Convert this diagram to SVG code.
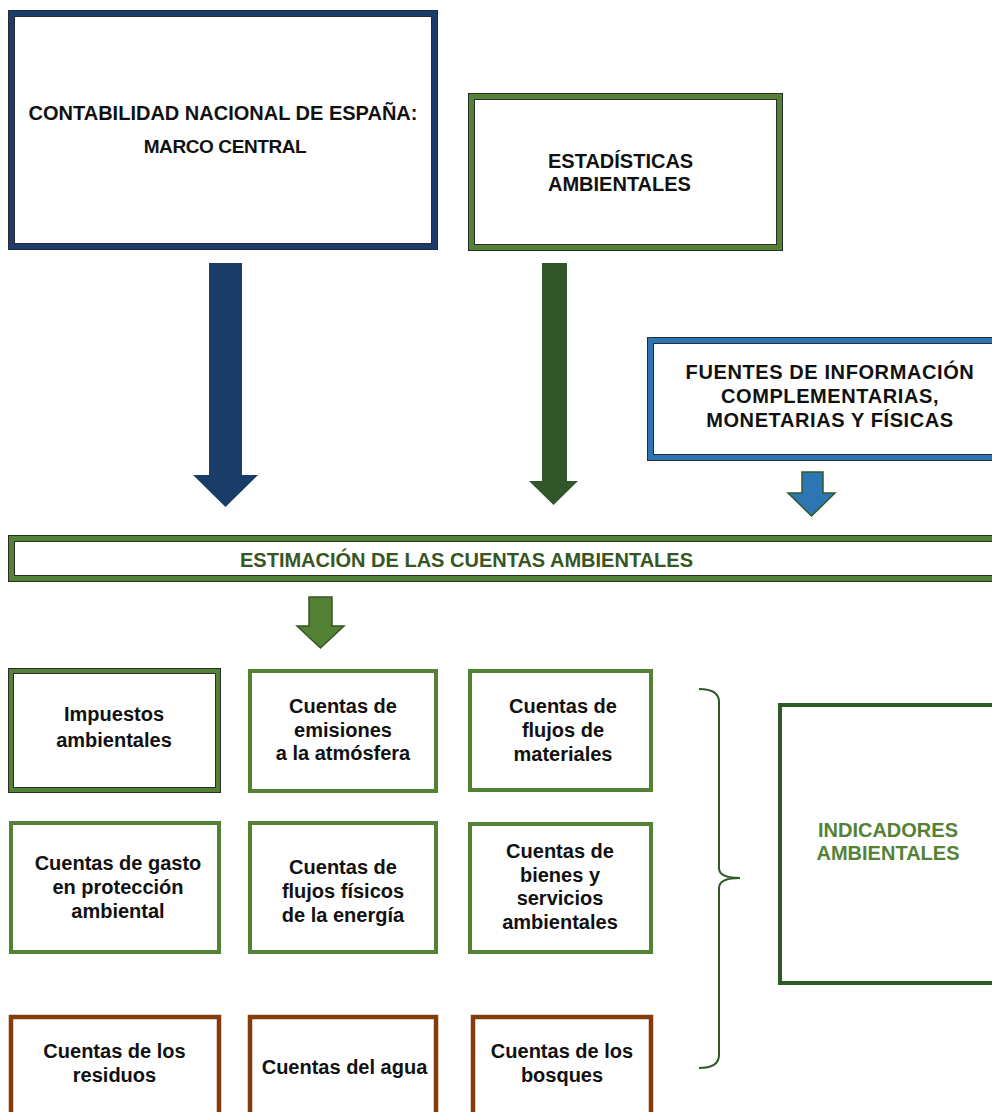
<svg xmlns="http://www.w3.org/2000/svg" width="992" height="1112" viewBox="0 0 992 1112">
<style>
text{font-family:"Liberation Sans",Arial,sans-serif;font-weight:bold;font-size:20px;fill:#111;}
.c{text-anchor:middle;}
.outline{fill:none;stroke:#2b2b2b;stroke-width:7;}
.navy{fill:none;stroke:#1c3d6b;stroke-width:5;}
.grn{fill:none;stroke:#548235;stroke-width:5;}
.blu{fill:none;stroke:#2e75b6;stroke-width:5;}
.box{fill:none;stroke:#548235;stroke-width:4;}
.brn{fill:none;stroke:#843c0c;stroke-width:4.5;}
.dg{fill:none;stroke:#2e5a27;stroke-width:4;}
</style>
<rect width="992" height="1112" fill="#fff"/>
<g id="contabilidad">
<rect class="outline" x="11.5" y="13.5" width="423" height="233"/>
<rect class="navy" x="11.5" y="13.5" width="423" height="233"/>
<text class="c" x="223" y="120">CONTABILIDAD NACIONAL DE ESPAÑA:</text>
<text class="c" x="225" y="153" style="font-size:19px;letter-spacing:-0.4px">MARCO CENTRAL</text>
</g>
<g id="estadisticas">
<rect class="outline" x="471.5" y="96.5" width="308" height="151"/>
<rect class="grn" x="471.5" y="96.5" width="308" height="151"/>
<text x="548" y="168">ESTADÍSTICAS</text>
<text x="548" y="191">AMBIENTALES</text>
</g>
<g id="fuentes">
<rect class="outline" x="650.5" y="340.5" width="360" height="117"/>
<rect class="blu" x="650.5" y="340.5" width="360" height="117"/>
<text class="c" x="830" y="379" style="letter-spacing:0.6px">FUENTES DE INFORMACIÓN</text>
<text class="c" x="830" y="403" style="letter-spacing:0.6px">COMPLEMENTARIAS,</text>
<text class="c" x="830" y="427" style="letter-spacing:0.6px">MONETARIAS Y FÍSICAS</text>
</g>
<g id="estimacion">
<rect class="outline" x="11.5" y="538.5" width="1000" height="40"/>
<rect class="grn" x="11.5" y="538.5" width="1000" height="40"/>
<text x="240" y="567" style="fill:#375623">ESTIMACIÓN DE LAS CUENTAS AMBIENTALES</text>
</g>
<g id="impuestos">
<rect class="outline" x="11" y="671" width="207" height="119" style="stroke-width:6"/>
<rect class="box" x="11" y="671" width="207" height="119"/>
<text class="c" x="114" y="721">Impuestos</text>
<text class="c" x="114" y="747">ambientales</text>
</g>
<g id="emisiones">
<rect class="box" x="250" y="671" width="186" height="120"/>
<text class="c" x="343" y="713">Cuentas de</text>
<text class="c" x="343" y="737">emisiones</text>
<text class="c" x="343" y="760">a la atmósfera</text>
</g>
<g id="materiales">
<rect class="box" x="470" y="671" width="181" height="119"/>
<text class="c" x="563" y="713">Cuentas de</text>
<text class="c" x="563" y="737">flujos de</text>
<text class="c" x="563" y="761">materiales</text>
</g>
<g id="gasto">
<rect class="box" x="11" y="823" width="208" height="129"/>
<text class="c" x="118" y="870">Cuentas de gasto</text>
<text class="c" x="118" y="894">en protección</text>
<text class="c" x="118" y="918">ambiental</text>
</g>
<g id="energia">
<rect class="box" x="250" y="823" width="186" height="129"/>
<text class="c" x="343" y="874">Cuentas de</text>
<text class="c" x="343" y="898">flujos físicos</text>
<text class="c" x="343" y="922">de la energía</text>
</g>
<g id="bienes">
<rect class="box" x="470" y="824" width="181" height="128"/>
<text class="c" x="560" y="858">Cuentas de</text>
<text class="c" x="560" y="882">bienes y</text>
<text class="c" x="560" y="905">servicios</text>
<text class="c" x="560" y="929">ambientales</text>
</g>
<g id="residuos">
<rect class="brn" x="11" y="1017" width="208" height="120"/>
<text class="c" x="114.5" y="1058">Cuentas de los</text>
<text class="c" x="114.5" y="1082">residuos</text>
</g>
<g id="agua">
<rect class="brn" x="250" y="1017" width="186" height="120"/>
<text class="c" x="344.5" y="1074">Cuentas del agua</text>
</g>
<g id="bosques">
<rect class="brn" x="473" y="1017" width="178" height="120"/>
<text class="c" x="562" y="1058">Cuentas de los</text>
<text class="c" x="562" y="1082">bosques</text>
</g>
<g id="indicadores">
<rect class="dg" x="780" y="705" width="250" height="278"/>
<text class="c" x="888" y="837" style="fill:#548235">INDICADORES</text>
<text class="c" x="888" y="860" style="fill:#548235">AMBIENTALES</text>
</g>
<g id="connectors">
<polygon points="209,263 242,263 242,475 258,475 225.5,507 193,475 209,475" fill="#1a3c68"/>
<polygon points="542,263 567,263 567,481 578,481 553.5,505 529,481 542,481" fill="#30562a"/>
<polygon points="802,472 823,472 823,493 835,493 811.5,516 788,493 802,493" fill="#2e75b6" stroke="#2f5a28" stroke-width="1.5"/>
<polygon points="309,597 332,597 332,626 344,626 320.5,648 297,626 309,626" fill="#548235" stroke="#375623" stroke-width="1.5"/>
<path d="M699,689 Q719,689 719,702 L719,868 Q719,878 740,878 Q719,878 719,888 L719,1055 Q719,1068 699,1068" fill="none" stroke="#2f5a28" stroke-width="2"/>
</g>
</svg>
